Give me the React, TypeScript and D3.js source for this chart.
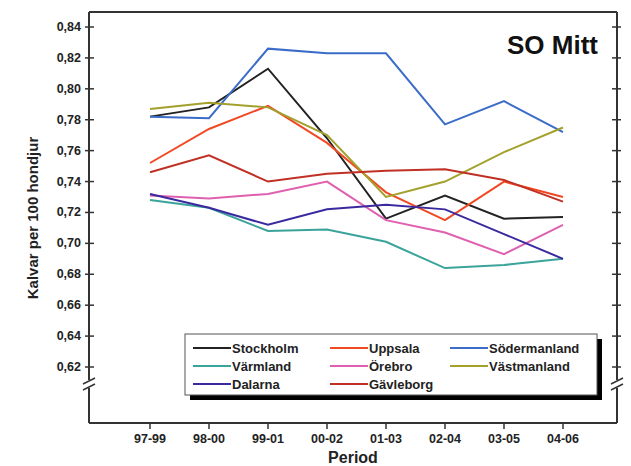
import React from "react";
import * as d3 from "d3";

const periods = ["97-99","98-00","99-01","00-02","01-03","02-04","03-05","04-06"];
const yTicks = [0.62,0.64,0.66,0.68,0.70,0.72,0.74,0.76,0.78,0.80,0.82,0.84];
const stockholm = [.782,.788,.813,.768,.716,.731,.716,.717];
const uppsala = [.752,.774,.789,.765,.733,.715,.740,.730];
const sodermanland = [.782,.781,.826,.823,.823,.777,.792,.772];
const varmland = [.728,.723,.708,.709,.701,.684,.686,.690];
const orebro = [.731,.729,.732,.740,.715,.707,.693,.712];
const vastmanland = [.787,.791,.788,.770,.730,.740,.759,.775];
const dalarna = [.732,.723,.712,.722,.725,.722,.706,.690];
const gavleborg = [.746,.757,.740,.745,.747,.748,.741,.727];

const series = [
  { name: "Stockholm", color: "#222222", v: stockholm },
  { name: "Uppsala", color: "#f04a24", v: uppsala },
  { name: "Södermanland", color: "#3a6cc8", v: sodermanland },
  { name: "Värmland", color: "#3aa39a", v: varmland },
  { name: "Örebro", color: "#e060b0", v: orebro },
  { name: "Västmanland", color: "#a3a02c", v: vastmanland },
  { name: "Dalarna", color: "#3a2aa0", v: dalarna },
  { name: "Gävleborg", color: "#c03024", v: gavleborg },
];

export default function App() {
  const L = 89, R = 617, T = 12, B = 423;
  const x = d3.scalePoint().domain(periods).range([150, 563]);
  const y = d3.scaleLinear().domain([0.62, 0.84]).range([367, 27]);
  const line = d3.line<number>().x((_, i) => x(periods[i])!).y((d) => y(d));
  const font = "Arial, Liberation Sans, sans-serif";
  const brk = 385;
  return (
    <svg width={631} height={466} style={{ position: "absolute", left: 0, top: 0 }} fontFamily={font}>
      <rect width={631} height={466} fill="#fff" />
      <line x1={L} y1={T} x2={R} y2={T} stroke="#333" strokeWidth={2} />
      <line x1={L} y1={B} x2={R} y2={B} stroke="#333" strokeWidth={2} />
      <line x1={L} y1={T} x2={L} y2={brk - 5} stroke="#333" strokeWidth={2} />
      <line x1={L} y1={brk + 3} x2={L} y2={B} stroke="#333" strokeWidth={2} />
      <line x1={R} y1={T} x2={R} y2={brk - 5} stroke="#333" strokeWidth={2} />
      <line x1={R} y1={brk + 3} x2={R} y2={B} stroke="#333" strokeWidth={2} />
      {[L, R].map((xx) => (
        <g key={xx} stroke="#333" strokeWidth={1.5}>
          <line x1={xx - 6} y1={brk - 1} x2={xx + 6} y2={brk - 7} />
          <line x1={xx - 6} y1={brk + 5} x2={xx + 6} y2={brk - 1} />
        </g>
      ))}
      {yTicks.map((t) => (
        <g key={t}>
          <line x1={L - 4} x2={L + 5} y1={y(t)} y2={y(t)} stroke="#333" strokeWidth={1.5} />
          <line x1={R - 5} x2={R + 4} y1={y(t)} y2={y(t)} stroke="#333" strokeWidth={1.5} />
          <text x={L - 8} y={y(t) + 4} textAnchor="end" fontSize={12.5} fontWeight="bold" fill="#222">
            {t.toFixed(2).replace(".", ",")}
          </text>
        </g>
      ))}
      {periods.map((p) => (
        <g key={p}>
          <line x1={x(p)} x2={x(p)} y1={B} y2={B + 6} stroke="#333" strokeWidth={1.5} />
          <text x={x(p)} y={B + 20} textAnchor="middle" fontSize={12.5} fontWeight="bold" fill="#222">{p}</text>
        </g>
      ))}
      <text x={353} y={463} textAnchor="middle" fontSize={16} fontWeight="bold" fill="#222">Period</text>
      <text transform="translate(38,218) rotate(-90)" textAnchor="middle" fontSize={15} fontWeight="bold" fill="#222">Kalvar per 100 hondjur</text>
      <text x={598} y={54} textAnchor="end" fontSize={26} fontWeight="bold" fill="#111">SO Mitt</text>
      {series.map((s) => (
        <path key={s.name} d={line(s.v)!} fill="none" stroke={s.color} strokeWidth={2} />
      ))}
      <rect x={190} y={339} width={412} height={61} fill="#000" />
      <rect x={185} y={334} width={412} height={61} fill="#fff" stroke="#555" strokeWidth={1} />
      {series.map((s, i) => {
        const col = i % 3, row = Math.floor(i / 3);
        const lx = [193, 330, 450][col];
        const ly = 349 + row * 18;
        return (
          <g key={s.name}>
            <line x1={lx} x2={lx + 38} y1={ly - 1} y2={ly - 1} stroke={s.color} strokeWidth={2} />
            <text x={lx + 39} y={ly + 4} fontSize={13} fontWeight="bold" fill="#222">{s.name}</text>
          </g>
        );
      })}
    </svg>
  );
}
